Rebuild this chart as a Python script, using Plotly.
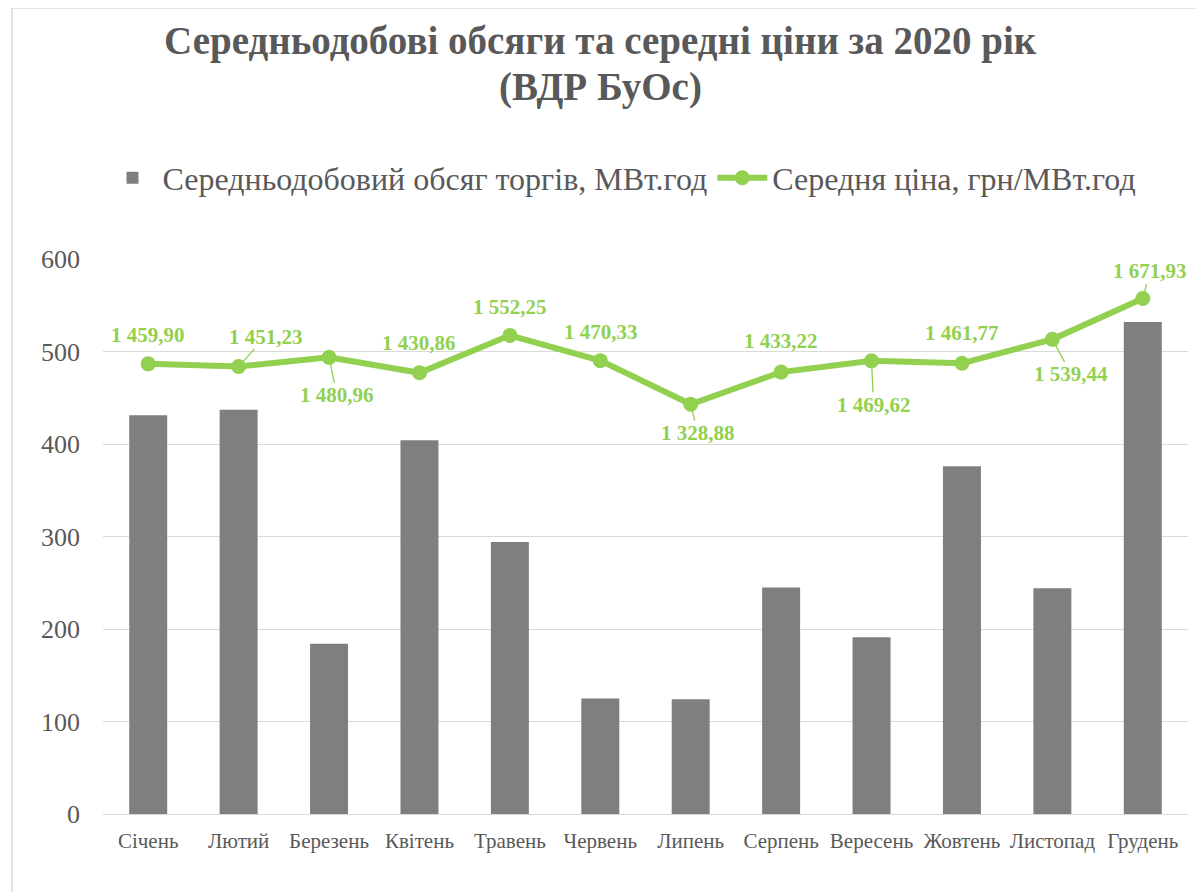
import plotly.graph_objects as go

months = ["Січень", "Лютий", "Березень", "Квітень", "Травень", "Червень",
          "Липень", "Серпень", "Вересень", "Жовтень", "Листопад", "Грудень"]
volume = [431, 437, 184, 404, 294, 125, 124, 245, 191, 376, 244, 532]
price = [1459.90, 1451.23, 1480.96, 1430.86, 1552.25, 1470.33,
         1328.88, 1433.22, 1469.62, 1461.77, 1539.44, 1671.93]
price_labels = ["1 459,90", "1 451,23", "1 480,96", "1 430,86", "1 552,25", "1 470,33",
                "1 328,88", "1 433,22", "1 469,62", "1 461,77", "1 539,44", "1 671,93"]
y_ticks = [0, 100, 200, 300, 400, 500, 600]
title_lines = ["Середньодобові обсяги та середні ціни за 2020 рік", "(ВДР БуОс)"]

# label offsets (pixels, text centre relative to point) and leader-line flag
label_offsets = [(0, -29, False), (27, -30, True), (8, 38, True), (0, -30, False),
                 (0, -28, False), (1, -29, False), (7, 29, True), (0, -31, False),
                 (2, 44, True), (0, -30, False), (19, 35, True), (7, -27, True)]

GREEN = "#92D050"
GREY = "#595959"
FONT = "Times New Roman, Liberation Serif, serif"

# page offset (body margin) compensation
OFF = 8
W, H = 1203 - OFF, 892 - OFF
X0, X1, Y0, Y1 = 103, 1188, 814, 259     # plot area in viewport pixels
PL, PR, PT, PB = X0 - OFF, X1 - OFF, Y1 - OFF, Y0 - OFF
pw, ph = X1 - X0, Y0 - Y1


def px(xv):
    return (xv - X0) / pw


def py(yv):
    return (Y0 - yv) / ph


fig = go.Figure()
fig.add_trace(go.Bar(
    x=months, y=volume, name="Середньодобовий обсяг торгів, МВт.год",
    marker=dict(color="#7F7F7F", line=dict(width=0)),
))
fig.add_trace(go.Scatter(
    x=months, y=price, name="Середня ціна, грн/МВт.год", yaxis="y2",
    mode="lines+markers",
    line=dict(color=GREEN, width=6),
    marker=dict(color=GREEN, size=15),
))

annotations = []
for m, p, lab, (dx, dy, leader) in zip(months, price, price_labels, label_offsets):
    txt = "<b>" + lab + "</b>"
    if leader:
        annotations.append(dict(
            x=m, y=p, xref="x", yref="y2", text=txt, showarrow=True,
            ax=dx, ay=dy, arrowhead=0, arrowwidth=1.3, arrowcolor=GREEN,
            standoff=6, font=dict(family=FONT, size=21, color=GREEN),
            borderpad=0,
        ))
    else:
        annotations.append(dict(
            x=m, y=p, xref="x", yref="y2", text=txt, showarrow=False,
            xshift=dx, yshift=-dy, font=dict(family=FONT, size=21, color=GREEN),
        ))

# title lines
for line, yc in zip(title_lines, [41, 87]):
    annotations.append(dict(
        x=px(600), y=py(yc), xref="paper", yref="paper", text="<b>" + line + "</b>",
        showarrow=False, xanchor="center", yanchor="middle",
        font=dict(family=FONT, size=39, color=GREY),
    ))

fig.update_layout(
    width=W, height=H,
    margin=dict(l=PL, r=W - PR, t=PT, b=H - PB),
    paper_bgcolor="white", plot_bgcolor="white",
    font=dict(family=FONT, color=GREY),
    bargap=0.58,
    showlegend=True,
    legend=dict(
        orientation="h", x=px(622), xanchor="center",
        y=py(178), yanchor="middle",
        font=dict(family=FONT, size=32, color=GREY),
        itemwidth=50, bgcolor="rgba(0,0,0,0)",
    ),
    xaxis=dict(
        range=[-0.5, 11.5],
        tickfont=dict(family=FONT, size=21, color=GREY),
        showgrid=False, showline=False, ticks="", ticklabelstandoff=12,
    ),
    yaxis=dict(
        range=[0, 600], tickvals=y_ticks,
        tickfont=dict(family=FONT, size=26, color=GREY),
        gridcolor="#D9D9D9", gridwidth=1.3, zeroline=True,
        zerolinecolor="#D9D9D9", zerolinewidth=1.3,
        showline=False, ticks="", ticklabelstandoff=22,
    ),
    yaxis2=dict(
        range=[0, 1800], overlaying="y", side="right", visible=False,
    ),
    annotations=annotations,
    shapes=[dict(
        type="rect", xref="paper", yref="paper",
        x0=px(12), x1=1.2, y0=-0.4, y1=py(8),
        line=dict(color="#D9D9D9", width=1.5), fillcolor="rgba(0,0,0,0)",
        layer="below",
    )],
)

fig.write_html("out.html")
